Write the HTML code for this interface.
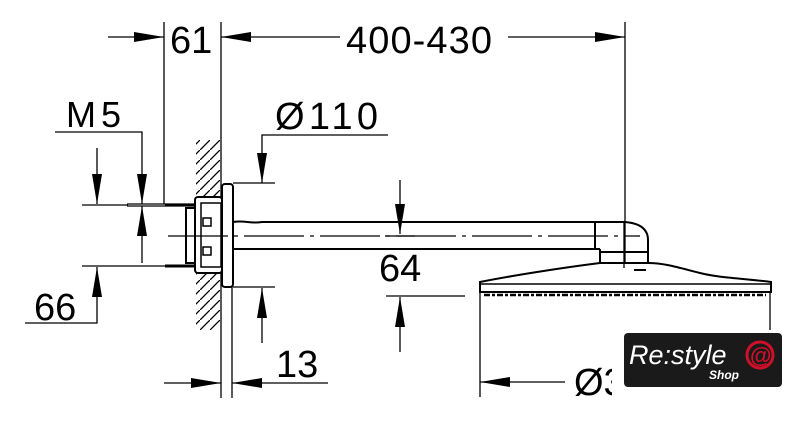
<!DOCTYPE html>
<html><head><meta charset="utf-8"><style>
html,body{margin:0;padding:0;background:#fff;}
svg{display:block;}
text{font-family:"Liberation Sans",sans-serif;fill:#000;}
</style></head><body>
<svg width="792" height="424" viewBox="0 0 792 424" xmlns="http://www.w3.org/2000/svg">
<defs>
<marker id="a" viewBox="0 0 30 10" refX="30" refY="5" markerWidth="30" markerHeight="10" markerUnits="userSpaceOnUse" orient="auto"><path d="M0,0 L30,5 L0,10 Z" fill="#000"/></marker>
<pattern id="h" width="10" height="10" patternUnits="userSpaceOnUse"><path d="M0,10 L10,0" stroke="#000" stroke-width="1.3"/></pattern>
</defs>
<g stroke="#000" stroke-width="1.3" fill="none">
<line x1="164" y1="22" x2="164" y2="204"/>
<line x1="221" y1="22" x2="221" y2="398"/>
<line x1="232" y1="287" x2="232" y2="398"/>
<line x1="625" y1="22" x2="625" y2="268"/>
<line x1="108" y1="37" x2="164" y2="37" marker-end="url(#a)"/>
<line x1="340" y1="37" x2="221" y2="37" marker-end="url(#a)"/>
<line x1="508" y1="37" x2="625" y2="37" marker-end="url(#a)"/>
<polyline points="55,132 142,132 142,204" marker-end="url(#a)"/>
<line x1="142" y1="263" x2="142" y2="206" marker-end="url(#a)"/>
<line x1="97" y1="148" x2="97" y2="204" marker-end="url(#a)"/>
<polyline points="25,323 97,323 97,267" marker-end="url(#a)"/>
<line x1="82" y1="205" x2="128" y2="205"/>
<line x1="82" y1="266" x2="165" y2="266"/>
<polyline points="388,135 262,135 262,183" marker-end="url(#a)"/>
<line x1="233" y1="183" x2="275" y2="183"/>
<line x1="233" y1="287" x2="275" y2="287"/>
<line x1="262" y1="343" x2="262" y2="288" marker-end="url(#a)"/>
<line x1="164" y1="383" x2="221" y2="383" marker-end="url(#a)"/>
<line x1="328" y1="383" x2="232" y2="383" marker-end="url(#a)"/>
<line x1="400" y1="180" x2="400" y2="234" marker-end="url(#a)"/>
<line x1="385" y1="236" x2="415" y2="236"/>
<line x1="386" y1="296" x2="465" y2="296"/>
<line x1="400" y1="352" x2="400" y2="297" marker-end="url(#a)"/>
<line x1="480" y1="292" x2="480" y2="397"/>
<line x1="770" y1="292" x2="770" y2="330"/>
<line x1="565" y1="382" x2="480" y2="382" marker-end="url(#a)"/>
</g>
<rect x="196" y="140" width="24" height="190" fill="url(#h)"/>
<g stroke="#000" fill="none">
<line x1="127" y1="204" x2="195" y2="204" stroke-width="1.2"/>
<line x1="127" y1="206" x2="195" y2="206" stroke-width="1.2"/>
<line x1="165" y1="205" x2="195" y2="205" stroke-width="3"/>
<line x1="165" y1="266" x2="195" y2="266" stroke-width="3"/>
<rect x="186" y="208" width="9" height="55" stroke-width="2" fill="#fff"/>
<rect x="195" y="197" width="27" height="76" rx="3" stroke-width="2" fill="#fff"/>
<rect x="201" y="203" width="20" height="64" stroke-width="1.5"/>
<rect x="203" y="218" width="8" height="8" stroke-width="1.5"/>
<rect x="203" y="247" width="8" height="8" stroke-width="1.5"/>
<rect x="222" y="184" width="11" height="103" rx="3" stroke-width="2" fill="#fff"/>
<line x1="168" y1="236" x2="640" y2="236" stroke-width="1.3" stroke-dasharray="60,6,4,6"/>
<path d="M233,222 C245,220 250,224 262,222 L625,222 Q648,224 648,240 L648,263" stroke-width="2"/>
<path d="M233,249 L600,249" stroke-width="2"/>
<line x1="595" y1="222" x2="595" y2="249" stroke-width="2"/>
<path d="M600,249 L600,263 M600,252 L648,252" stroke-width="2"/>
<path d="M600,263 C560,268 510,276 480,282 L480,292 L771,292 L771,282 C740,278 720,278 700,273 C680,268 665,263 648,263 Z" stroke-width="2" fill="#fff"/>
<line x1="480" y1="284" x2="771" y2="284" stroke-width="1.5"/>
<line x1="634" y1="270" x2="646" y2="270" stroke-width="2"/>
<line x1="484" y1="295" x2="766" y2="295" stroke-width="2.5" stroke-dasharray="6,2,3,2"/>
<line x1="624" y1="222" x2="624" y2="268" stroke-width="1.3"/>
</g>
<g font-size="38">
<text x="170" y="53">61</text>
<text x="346" y="53" textLength="146">400-430</text>
<text x="66" y="127" letter-spacing="5" font-size="36">M5</text>
<text x="275" y="129" textLength="103">Ø110</text>
<text x="34" y="320">66</text>
<text x="379" y="281">64</text>
<text x="276" y="377">13</text>
<text x="574" y="395">Ø3</text>
</g>
<rect x="612" y="360" width="12" height="40" fill="#fff"/>
<rect x="624" y="333" width="158" height="54" rx="4" fill="#1a1a1a"/>
<text x="629" y="364" font-size="27" font-style="italic" style="fill:#fff">Re:style</text>
<text x="709" y="379" font-size="12" font-weight="bold" font-style="italic" style="fill:#fff">Shop</text>
<circle cx="760" cy="355" r="13" fill="none" stroke="#d0102a" stroke-width="3"/>
<text x="750" y="363" font-size="22" font-weight="bold" style="fill:#d0102a">@</text>
</svg>
</body></html>
